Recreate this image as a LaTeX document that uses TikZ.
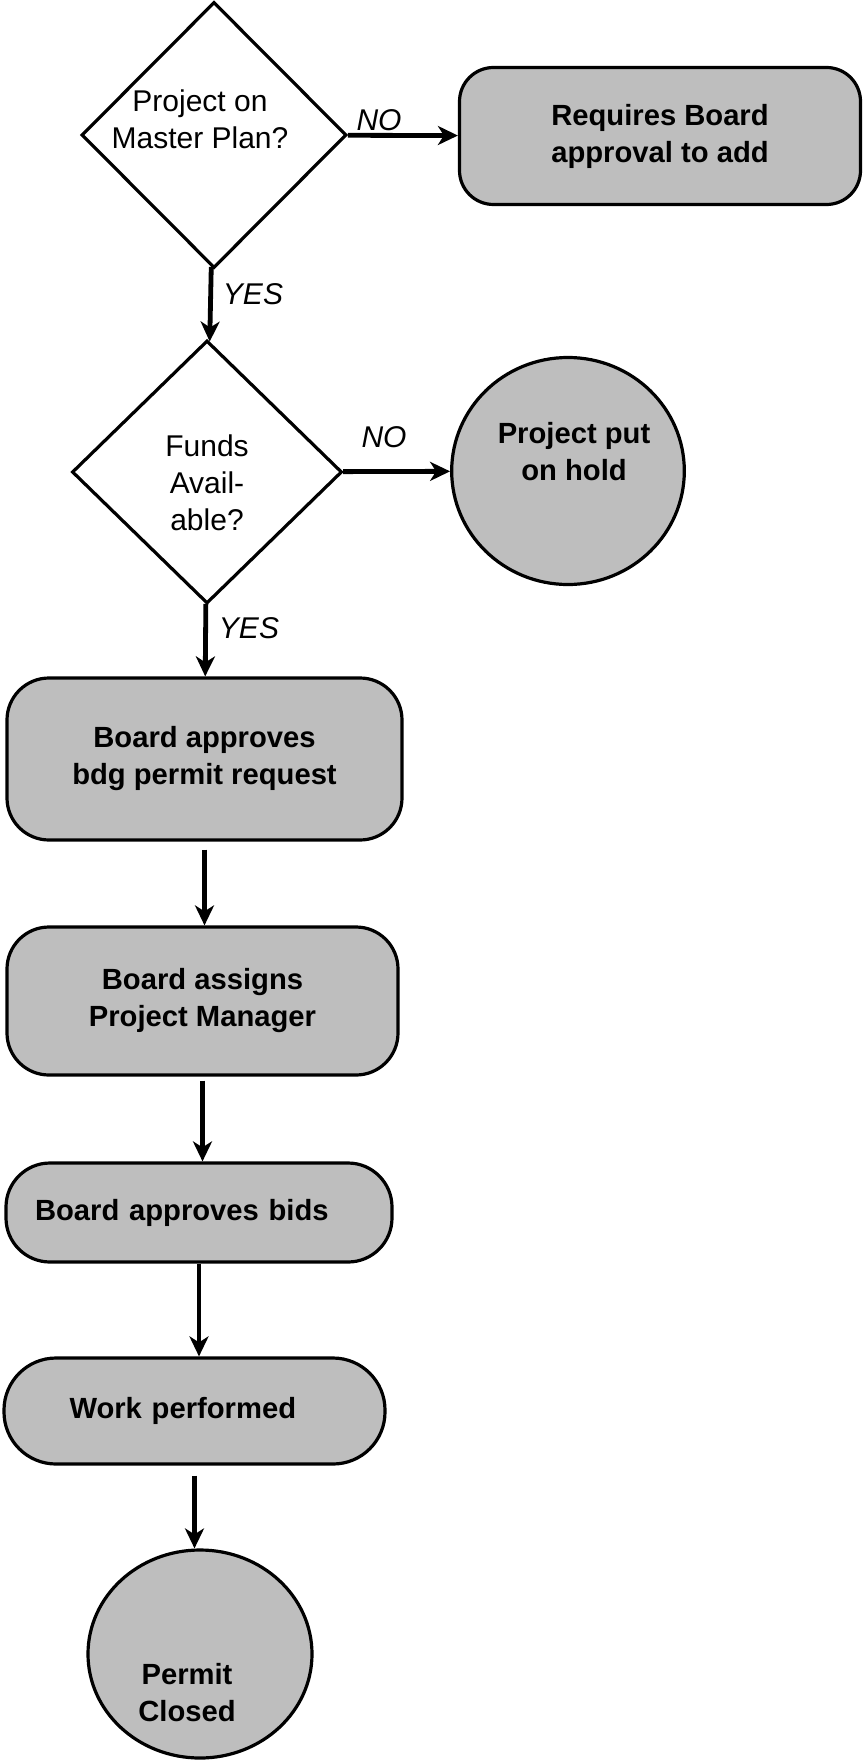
\documentclass[tikz,border=0pt]{standalone}
\usepackage{fontspec}
\setmainfont{Liberation Sans}
\usetikzlibrary{shapes.geometric,arrows.meta,positioning}
\definecolor{boxgray}{RGB}{190,190,190}
\begin{document}
\begin{tikzpicture}[x=0.5pt,y=-0.5pt,
    every node/.style = {align=center, draw, line width=1.6pt, inner sep=0pt,
    font=\fontsize{15}{18.5}\selectfont},
    question/.style = {diamond, aspect=1, fill=white},
    process/.style = {rectangle, fill=boxgray, font=\fontsize{14.6}{18.5}\selectfont\bfseries},
    finish/.style = {ellipse, fill=boxgray, font=\fontsize{14.6}{18.5}\selectfont\bfseries},
    scrawl/.style = {draw=none, font=\fontsize{15}{15}\selectfont\itshape},
    flow/.style = {line width=2.4pt, -{Stealth[length=10pt,width=9.5pt,inset=3pt]}}]
\useasboundingbox (0,0) rectangle (864,1760);
\node[question,minimum width=132.5pt,minimum height=133pt] (onplan) at (214,135)
  {\hspace*{-14pt}\raisebox{6pt}[\height][\depth]{\begin{tabular}{@{}c@{}}Project on\\Master Plan?\end{tabular}}};
\node[process,minimum width=200.5pt,minimum height=68.5pt,rounded corners=17pt] (addplan) at (660,136) {Requires Board\\approval to add};
\node[question,minimum width=135pt,minimum height=131.5pt] (funds) at (207,472)
  {\raisebox{-7pt}[\height][\depth]{\begin{tabular}{@{}c@{}}Funds\\Avail-\\able?\end{tabular}}};
\node[finish,minimum width=113.5pt,minimum height=113.5pt] (hold) at (568,471)
  {\hspace*{6pt}\raisebox{8pt}[\height][\depth]{\begin{tabular}{@{}c@{}}Project put\\on hold\end{tabular}}};
\node[process,minimum width=197.5pt,minimum height=81pt,rounded corners=21pt] (permit) at (204.5,759) {Board approves\\bdg permit request};
\node[process,minimum width=195.5pt,minimum height=74pt,rounded corners=21pt] (manager) at (202.5,1001) {Board assigns\\Project Manager};
\node[process,minimum width=193pt,minimum height=49.5pt,rounded corners=22pt,text width=164pt,align=left] (bids) at (199,1212.5) {Board approves bids};
\node[process,minimum width=190.5pt,minimum height=53pt,rounded corners=26pt,text width=125pt,align=left] (work) at (194.5,1411) {Work performed};
\node[finish,minimum width=112pt,minimum height=104pt] (closed) at (200,1654)
  {\hspace*{-13pt}\raisebox{-21pt}[\height][\depth]{\begin{tabular}{@{}c@{}}Permit\\Closed\end{tabular}}};
\node[scrawl] (no1) at (379,120) {NO};
\node[scrawl] (yes1) at (253,294) {YES};
\node[scrawl] (no2) at (384,437) {NO};
\node[scrawl] (yes2) at (249,628) {YES};
\draw[flow] (onplan) -- (addplan);
\draw[flow] (onplan) -- (funds);
\draw[flow] (funds) -- (hold);
\draw[flow] (funds) -- (permit);
\draw[flow,shorten <=4pt] (permit) -- (permit |- manager.north);
\draw[flow,shorten <=2pt] (manager) -- (manager |- bids.north);
\draw[flow] (bids) -- (bids |- work.north);
\draw[flow,shorten <=5pt] (work) -- (work |- closed.north);
\end{tikzpicture}
\end{document}
